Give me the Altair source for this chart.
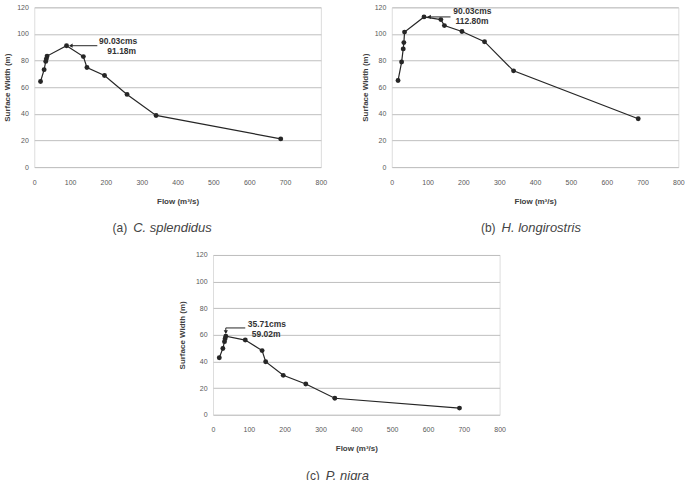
import altair as alt
import pandas as pd

# Flow values (m^3/s) shared by the three species curves
flows = [17.5, 27.5, 32.0, 33.8, 35.71, 90.03, 137.0, 147.0, 196.0, 259.0, 340.0, 688.0]

# Surface width (m) for each species
width_splendidus = [64.3, 73.2, 79.4, 81.3, 83.4, 91.18, 83.0, 74.8, 68.8, 54.6, 38.8, 21.2]
width_longirostris = [65.0, 78.9, 88.8, 93.5, 101.4, 112.80, 110.8, 106.3, 101.9, 94.2, 72.3, 36.3]
width_nigra = [42.8, 49.8, 54.9, 57.1, 59.02, 56.1, 48.2, 39.8, 29.6, 23.1, 12.4, 5.0]

x_ticks = [0, 100, 200, 300, 400, 500, 600, 700, 800]
y_ticks = [0, 20, 40, 60, 80, 100, 120]

FONT = "Liberation Sans"
INK = "#262626"
PW, PH = 287, 160

X_AXIS = alt.Axis(
    values=x_ticks, title="Flow (m³/s)", grid=False, ticks=False, domain=False,
    labelFontSize=7, labelColor="#595959", labelFont=FONT, labelPadding=11,
    labelFlush=False, labelOverlap=False,
    titleFontSize=8, titleFontWeight="bold", titleColor="#404040",
    titleFont=FONT, titlePadding=12,
)


def y_axis(title_pad):
    return alt.Axis(
        values=y_ticks, title="Surface Width (m)", grid=True, gridColor="#bfbfbf",
        gridWidth=1, ticks=False, domain=False,
        labelFontSize=7, labelColor="#595959", labelFont=FONT, labelPadding=6,
        labelFlush=False, labelOverlap=False,
        titleFontSize=8, titleFontWeight="bold", titleColor="#404040",
        titleFont=FONT, titlePadding=title_pad,
    )


X_SCALE = alt.Scale(domain=[0, 800], nice=False, zero=True)
Y_SCALE = alt.Scale(domain=[0, 120], nice=False)


def xy(yaxis):
    return dict(
        x=alt.X("flow:Q", scale=X_SCALE, axis=X_AXIS),
        y=alt.Y("width:Q", scale=Y_SCALE, axis=yaxis),
    )


def rule(yaxis, x1, x2, y1, y2):
    d = pd.DataFrame({"flow": [x1], "flow2": [x2], "width": [y1], "width2": [y2]})
    return alt.Chart(d).mark_rule(color=INK, strokeWidth=1).encode(
        **xy(yaxis), x2="flow2:Q", y2="width2:Q"
    )


def head(yaxis, xv, yv, shape):
    d = pd.DataFrame({"flow": [xv], "width": [yv]})
    return alt.Chart(d).mark_point(
        shape=shape, filled=True, color=INK, size=18, opacity=1
    ).encode(**xy(yaxis))


def label(yaxis, xv, yv, txt):
    d = pd.DataFrame({"flow": [xv], "width": [yv], "t": [txt]})
    return alt.Chart(d).mark_text(
        align="left", baseline="middle", font=FONT, fontSize=8.5,
        fontWeight="bold", color="#333"
    ).encode(**xy(yaxis), text="t:N")


def caption(px, txt, align, style, size):
    d = pd.DataFrame({"t": [txt]})
    return alt.Chart(d).mark_text(
        align=align, baseline="middle", font=FONT, fontSize=size,
        fontStyle=style, color="#444"
    ).encode(x=alt.value(px), y=alt.value(221), text="t:N")


def panel(widths, yaxis, tag, species, tag_x, sp_x, marks):
    df = pd.DataFrame({"flow": flows, "width": widths})
    base = alt.Chart(df).encode(**xy(yaxis))
    line = base.mark_line(color=INK, strokeWidth=1.2)
    pts = base.mark_circle(color=INK, size=24, opacity=1)
    caps = [
        caption(tag_x, tag, "right", "normal", 12),
        caption(sp_x, species, "left", "italic", 13),
    ]
    return alt.layer(line, pts, *marks, *caps).properties(width=PW, height=PH)


ya = y_axis(5)
yc = y_axis(9)

ann_a = [
    rule(ya, 100, 176, 91.18, 91.18),
    head(ya, 102, 91.18, "triangle-left"),
    label(ya, 181, 94.5, "90.03cms"),
    label(ya, 204, 87.0, "91.18m"),
]
ann_b = [
    rule(ya, 100, 164, 112.8, 112.8),
    head(ya, 104, 112.8, "triangle-left"),
    label(ya, 172, 117.0, "90.03cms"),
    label(ya, 178, 109.7, "112.80m"),
]
ann_c = [
    rule(yc, 35.71, 35.71, 61.5, 65.2),
    rule(yc, 35.71, 90, 65.2, 65.2),
    head(yc, 35.71, 62.0, "triangle-down"),
    label(yc, 97, 68.3, "35.71cms"),
    label(yc, 108, 60.4, "59.02m"),
]

pa = panel(width_splendidus, ya, "(a)", "C.  splendidus", 93, 99, ann_a)
pb = panel(width_longirostris, ya, "(b)", "H.  longirostris", 104, 110, ann_b)
pc = panel(width_nigra, yc, "(c)", "P.  nigra", 107, 113, ann_c)

top = alt.hconcat(pa, pb, spacing=32)
chart = (
    alt.vconcat(top, pc, spacing=14, center=True)
    .properties(padding={"left": 3, "top": 2, "right": 0, "bottom": 0})
    .configure_view(stroke="#505050", strokeWidth=2)
    .configure(background="white")
)

chart.save("out.html", embed_options={"renderer": "svg", "actions": False})
